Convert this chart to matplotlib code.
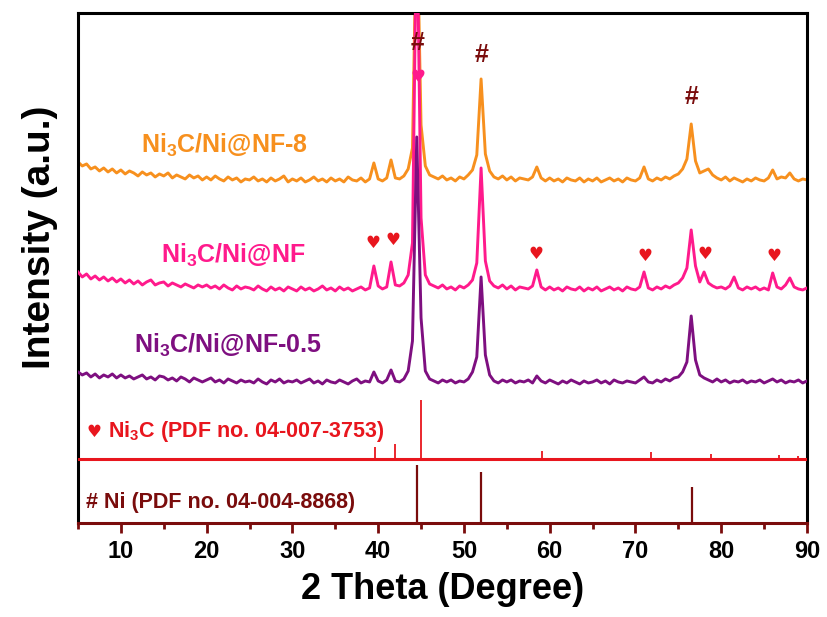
import numpy as np
import matplotlib
matplotlib.use("Agg")
import matplotlib.pyplot as plt

# ---------------------------------------------------------
# Data
# intensity in arbitrary units, sampled every 0.5 deg from 5 to 90
# ---------------------------------------------------------
two_theta = np.arange(5.0, 90.01, 0.5)

ni3c_ni_nf_8 = [
    361, 357, 359, 354, 356, 352, 355, 351, 354, 350,
    353, 349, 352, 350, 347, 351, 348, 350, 346, 349,
    347, 350, 345, 348, 346, 344, 348, 345, 347, 343,
    346, 343, 347, 344, 342, 346, 343, 345, 341, 344,
    343, 346, 342, 344, 341, 345, 342, 344, 347, 341,
    344, 342, 345, 341, 343, 346, 342, 344, 341, 345,
    342, 344, 341, 346, 343, 342, 345, 341, 344, 360,
    344, 342, 345, 363, 345, 344, 347, 354, 375, 620,
    398, 357, 348, 346, 344, 347, 343, 345, 342, 346,
    344, 348, 353, 368, 444, 369, 352, 346, 344, 347,
    343, 346, 342, 345, 344, 343, 346, 356, 345, 342,
    345, 342, 344, 341, 345, 343, 342, 345, 341, 344,
    342, 345, 341, 343, 345, 342, 344, 341, 345, 343,
    342, 345, 356, 344, 342, 345, 343, 346, 344, 347,
    349, 354, 364, 399, 362, 350, 352, 354, 348, 345,
    343, 346, 342, 345, 343, 341, 344, 342, 345, 343,
    342, 345, 353, 344, 346, 345, 350, 344, 342, 344,
    343,
]

ni3c_ni_nf = [
    251, 246, 249, 244, 247, 243, 246, 242, 245, 241,
    244, 240, 243, 239, 242, 238, 241, 243, 238, 240,
    241, 237, 240, 238, 236, 239, 237, 235, 238, 236,
    238, 235, 237, 234, 238, 235, 233, 237, 234, 236,
    235, 233, 237, 234, 232, 236, 233, 235, 232, 236,
    234, 232, 236, 233, 235, 232, 234, 237, 233, 235,
    232, 236, 233, 235, 232, 234, 236, 233, 235, 257,
    237, 234, 236, 261, 238, 237, 240, 248, 280, 620,
    305, 248, 239, 237, 235, 238, 234, 236, 233, 237,
    235, 238, 243, 260, 355, 262, 242, 237, 235, 238,
    234, 237, 233, 236, 235, 234, 237, 253, 236, 233,
    236, 233, 235, 232, 236, 234, 233, 236, 232, 235,
    233, 236, 232, 234, 236, 233, 235, 232, 236, 234,
    233, 236, 251, 235, 233, 236, 234, 237, 235, 238,
    240, 245, 255, 293, 257, 241, 251, 240, 237, 235,
    236, 234, 237, 246, 235, 233, 236, 234, 236, 233,
    235, 233, 250, 236, 234, 238, 245, 236, 234, 233,
    235,
]

ni3c_ni_nf_05 = [
    151, 148, 150, 146, 149, 145, 148, 146, 149, 145,
    148, 145, 147, 144, 146, 148, 144, 146, 143, 147,
    146, 143, 145, 142, 146, 144, 141, 145, 143, 141,
    143, 145, 141, 143, 140, 144, 142, 140, 143, 141,
    142, 140, 144, 141, 139, 143, 141, 144, 140, 142,
    141, 143, 140, 142, 144, 140, 142, 139, 143, 141,
    140, 143, 141, 139, 142, 144, 140, 142, 141, 151,
    142, 140, 143, 153, 142, 141, 144, 152, 182, 386,
    205, 152, 144, 142, 140, 143, 141, 143, 140, 142,
    141, 144, 151, 166, 246, 168, 148, 142, 140, 143,
    141, 143, 140, 142, 141, 143, 140, 147, 142, 140,
    143, 141, 139, 142, 140, 143, 141, 139, 142, 140,
    141, 143, 140, 142, 139, 143, 141, 140, 142, 141,
    140, 143, 146, 141, 140, 143, 141, 144, 142, 145,
    146, 151, 161, 207, 163, 148, 145, 143, 141, 144,
    141, 143, 140, 142, 141, 143, 140, 142, 141, 143,
    140, 142, 144, 141, 143, 140, 142, 141, 143, 140,
    142,
]

# reference stick patterns
ni_pos = [44.5, 52.0, 76.6]
ni_height = [58, 51, 36]

ni3c_base = 64
ni3c_pos = [26.4, 39.6, 42.0, 45.0, 59.1, 71.8, 78.8, 86.75, 88.9]
ni3c_height = [1, 12, 15, 59, 8, 7, 5, 4, 3]

# peak markers
hash_pos = [44.6, 52.0, 76.6]
hash_y = [480, 468, 426]
heart_pos = [39.4, 41.7, 58.4, 71.1, 78.1, 86.1]
heart_y = [280, 283, 269, 267, 269, 267]

# ---------------------------------------------------------
# Style
# ---------------------------------------------------------
plt.rcParams['font.family'] = ['Liberation Sans', 'DejaVu Sans']
plt.rcParams['font.weight'] = 'bold'
plt.rcParams['mathtext.fontset'] = 'custom'
plt.rcParams['mathtext.rm'] = 'Liberation Sans:bold'
plt.rcParams['mathtext.it'] = 'Liberation Sans:bold'
plt.rcParams['mathtext.bf'] = 'Liberation Sans:bold'

orange = '#F7901E'
pink = '#FF1A8C'
purple = '#7E0F80'
red = '#E8161E'
darkred = '#7A0C0C'

fig = plt.figure(figsize=(8.27, 6.17), dpi=100)
ax = fig.add_axes([0.0943, 0.1524, 0.8815, 0.8266])

ax.plot(two_theta, ni3c_ni_nf_8, color=orange, lw=2.1, zorder=2)
ax.plot(two_theta, ni3c_ni_nf, color=pink, lw=2.1, zorder=3)
ax.plot(two_theta, ni3c_ni_nf_05, color=purple, lw=2.1, zorder=4)

# Ni3C reference
ax.axhline(ni3c_base, color=red, lw=2.2, zorder=5)
ax.vlines(ni3c_pos, ni3c_base, [ni3c_base + h for h in ni3c_height],
          color=red, lw=1.3, zorder=5)
# Ni reference
ax.vlines(ni_pos, 0, ni_height, color=darkred, lw=1.6, zorder=5)

# labels
ax.text(12.4, 370, 'Ni$_3$C/Ni@NF-8', color=orange, fontsize=18,
        fontweight='bold', va='baseline')
ax.text(14.7, 260, 'Ni$_3$C/Ni@NF', color=pink, fontsize=18,
        fontweight='bold', va='baseline')
ax.text(11.5, 170, 'Ni$_3$C/Ni@NF-0.5', color=purple, fontsize=18,
        fontweight='bold', va='baseline')

ax.text(6.0, 86, '\u2665', color=red, fontsize=12, family='DejaVu Sans',
        va='baseline')
ax.text(8.5, 86, 'Ni$_3$C (PDF no. 04-007-3753)', color=red, fontsize=15.5,
        fontweight='bold', va='baseline')
ax.text(5.9, 15, '# Ni (PDF no. 04-004-8868)', color=darkred, fontsize=15.5,
        fontweight='bold', va='baseline')

for x, y in zip(hash_pos, hash_y):
    ax.text(x, y, '#', color=darkred, fontsize=18, fontweight='bold',
            ha='center', va='center', zorder=6)
ax.text(44.6, 446, '\u2665', color=pink, fontsize=12, family='DejaVu Sans',
        ha='center', va='center', zorder=6)
for x, y in zip(heart_pos, heart_y):
    ax.text(x, y, '\u2665', color=red, fontsize=12, family='DejaVu Sans',
            ha='center', va='center', zorder=6)

ax.set_xlim(5, 90)
ax.set_ylim(0, 510)
ax.set_yticks([])
ax.set_xticks(range(10, 91, 10))
ax.set_xticks(range(5, 91, 10), minor=True)
ax.tick_params(axis='x', which='major', direction='out', length=7, width=2,
               color=darkred, labelsize=17, pad=5)
ax.tick_params(axis='x', which='minor', direction='out', length=4, width=2,
               color=darkred)
for lab in ax.get_xticklabels():
    lab.set_fontweight('bold')

for side in ['left', 'right', 'top']:
    ax.spines[side].set_linewidth(2.2)
    ax.spines[side].set_color('black')
ax.spines['bottom'].set_linewidth(2.2)
ax.spines['bottom'].set_color(darkred)

ax.set_xlabel('2 Theta (Degree)', fontsize=26, fontweight='bold', labelpad=7)
ax.set_ylabel('Intensity (a.u.)', fontsize=28, fontweight='bold')
ax.yaxis.set_label_coords(-0.027, 0.56)

fig.savefig('out.png', dpi=100)
